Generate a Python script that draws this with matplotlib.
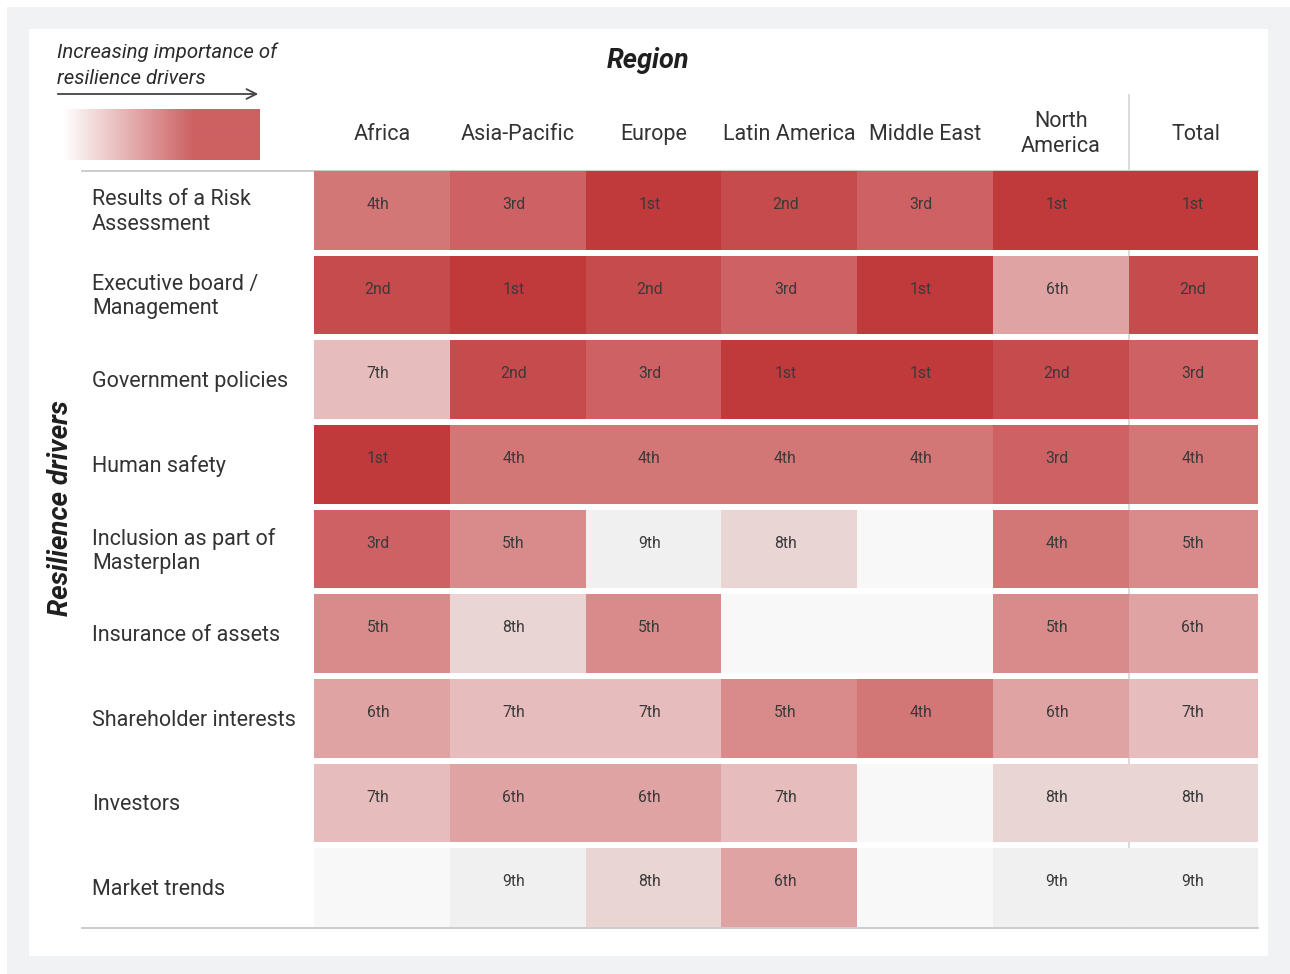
import numpy as np
import matplotlib
matplotlib.use("Agg")
import matplotlib.pyplot as plt
from matplotlib.patches import Rectangle
from matplotlib.colors import LinearSegmentedColormap

plt.rcParams['font.family'] = ['Roboto', 'DejaVu Sans']

# ---------------- data ----------------
regions = ["Africa", "Asia-Pacific", "Europe", "Latin America", "Middle East", "North\nAmerica", "Total"]
drivers = ["Results of a Risk\nAssessment", "Executive board /\nManagement", "Government policies",
           "Human safety", "Inclusion as part of\nMasterplan", "Insurance of assets",
           "Shareholder interests", "Investors", "Market trends"]
# rank of each driver per region (None = not ranked)
africa        = [4, 2, 7, 1, 3, 5, 6, 7, None]
asia_pacific  = [3, 1, 2, 4, 5, 8, 7, 6, 9]
europe        = [1, 2, 3, 4, 9, 5, 7, 6, 8]
latin_america = [2, 3, 1, 4, 8, None, 5, 7, 6]
middle_east   = [3, 1, 1, 4, None, None, 4, None, None]
north_america = [1, 6, 2, 3, 4, 5, 6, 8, 9]
total         = [1, 2, 3, 4, 5, 6, 7, 8, 9]
columns = [africa, asia_pacific, europe, latin_america, middle_east, north_america, total]
ordinals = {1: "1st", 2: "2nd", 3: "3rd", 4: "4th", 5: "5th", 6: "6th", 7: "7th", 8: "8th", 9: "9th"}

# ---------------- style ----------------
rank_colors = {1: "#c0393b", 2: "#c64b4d", 3: "#cd6163", 4: "#d37776", 5: "#d98b8b",
               6: "#dfa3a4", 7: "#e6bcbc", 8: "#ead5d5", 9: "#f0f0f0", None: "#f8f8f8"}
col_widths = [1, 1, 1, 1, 1, 1, 0.95]
W, H = 1290, 974
fig = plt.figure(figsize=(W / 100, H / 100), dpi=100)
fig.patch.set_facecolor("white")

# background / decoration axes in pixel coordinates
bg = fig.add_axes([0, 0, 1, 1])
bg.set_xlim(0, W)
bg.set_ylim(H, 0)
bg.axis("off")
bg.add_patch(Rectangle((7, 7), W - 7, H - 7, facecolor="#f1f2f4", edgecolor="none", zorder=0))
bg.add_patch(Rectangle((29, 29), 1268 - 29, 956 - 29, facecolor="white", edgecolor="none", zorder=0.5))

# legend text, arrow, gradient
bg.text(57, 52, "Increasing importance of", fontsize=14.7, style="italic", color="#2b2b2b",
        ha="left", va="center")
bg.text(57, 79, "resilience drivers", fontsize=14.7, style="italic", color="#2b2b2b",
        ha="left", va="center")
bg.annotate("", xy=(261, 94), xytext=(55, 94),
            arrowprops=dict(arrowstyle="->,head_length=0.7,head_width=0.35", color="#444444", lw=1.3))
c_end = np.array(matplotlib.colors.to_rgb("#cd6163"))
n_px = 197
t = np.clip(np.arange(n_px) / 130.0, 0, 1)
rgb = 1 - t[:, None] * (1 - c_end[None, :])
grad = np.repeat(rgb[None, :, :], 2, axis=0)
bg.imshow(grad, extent=(63, 260, 160, 109), aspect="auto", interpolation="bilinear", zorder=2)

bg.text(648, 60, "Region", fontsize=19.5, style="italic", weight="bold", color="#1f1f1f",
        ha="center", va="center")
bg.text(60, 508, "Resilience drivers", fontsize=20, style="italic", weight="bold", color="#1f1f1f",
        ha="center", va="center", rotation=90)

# separator lines
bg.plot([82, 1258], [170.5, 170.5], color="#c8c8c8", lw=1.3)
bg.plot([82, 1258], [927.5, 927.5], color="#c8c8c8", lw=1.3)
bg.plot([1129, 1129], [95, 927], color="#d4d4d4", lw=1.2)
bg.set_xlim(0, W)
bg.set_ylim(H, 0)

# heatmap axes
gap_px = 6.0
pitch = (927 - 171 + gap_px) / len(drivers)
gf = gap_px / pitch
ax = fig.add_axes([314 / W, 1 - 927 / H, (1258 - 314) / W, (927 - 171) / H])
ax.set_facecolor("none")
ax.axis("off")
xw = sum(col_widths)
ax.set_xlim(0, xw)
ax.set_ylim(len(drivers) - gf, 0)
px_per_x = (1258 - 314) / xw

x_edges = np.concatenate([[0], np.cumsum(col_widths)])
for j, (name, ranks) in enumerate(zip(regions, columns)):
    x0 = x_edges[j]
    w = col_widths[j]
    for i, r in enumerate(ranks):
        ax.add_patch(Rectangle((x0, i), w, 1 - gf, facecolor=rank_colors[r], edgecolor="none"))
        if r is not None:
            ax.text(x0 + 0.47, i + (1 - gf) / 2 - 0.07, ordinals[r], fontsize=11.3,
                    color="#3a3a3a", ha="center", va="center")
    ax.text(x0 + 0.5 * w + (0.02 if j == len(regions) - 1 else 0), (134 - 171) / pitch, name,
            fontsize=15.5, color="#333333", ha="center", va="center", linespacing=1.22, clip_on=False)

for i, d in enumerate(drivers):
    ax.text((92 - 314) / px_per_x, i + (1 - gf) / 2 + 0.02, d, fontsize=15.5, color="#333333",
            ha="left", va="center", linespacing=1.2, clip_on=False)

fig.savefig("out.png", dpi=100, facecolor="white")
